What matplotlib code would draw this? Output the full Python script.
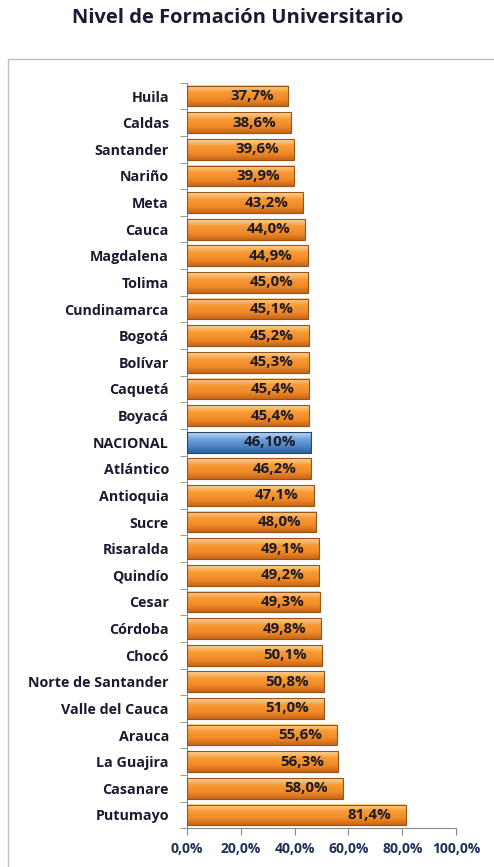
import numpy as np
import matplotlib.pyplot as plt
from matplotlib.patches import Rectangle
from matplotlib.colors import LinearSegmentedColormap

regiones = ["Huila", "Caldas", "Santander", "Nariño", "Meta", "Cauca", "Magdalena",
            "Tolima", "Cundinamarca", "Bogotá", "Bolívar", "Caquetá", "Boyacá",
            "NACIONAL", "Atlántico", "Antioquia", "Sucre", "Risaralda", "Quindío",
            "Cesar", "Córdoba", "Chocó", "Norte de Santander", "Valle del Cauca",
            "Arauca", "La Guajira", "Casanare", "Putumayo"]
valores = [37.7, 38.6, 39.6, 39.9, 43.2, 44.0, 44.9, 45.0, 45.1, 45.2, 45.3, 45.4, 45.4,
           46.10, 46.2, 47.1, 48.0, 49.1, 49.2, 49.3, 49.8, 50.1, 50.8, 51.0,
           55.6, 56.3, 58.0, 81.4]
etiquetas = ["37,7%", "38,6%", "39,6%", "39,9%", "43,2%", "44,0%", "44,9%", "45,0%",
             "45,1%", "45,2%", "45,3%", "45,4%", "45,4%", "46,10%", "46,2%", "47,1%",
             "48,0%", "49,1%", "49,2%", "49,3%", "49,8%", "50,1%", "50,8%", "51,0%",
             "55,6%", "56,3%", "58,0%", "81,4%"]
xticks = [0, 20, 40, 60, 80, 100]

plt.rcParams['font.family'] = ['Open Sans', 'DejaVu Sans']

fig = plt.figure(figsize=(4.94, 8.67), dpi=100)
# marco del area del grafico
fig.patches.append(Rectangle((8/494, -0.05), 1.1, 1 - 59/867 + 0.05, transform=fig.transFigure,
                             fill=False, edgecolor='#BFBFBF', lw=1))
fig.text(238/494, 1 - 18/867, "Nivel de Formación Universitario", ha='center', va='center',
         fontsize=14.5, fontweight='bold', color='#1A1A30')

ax = fig.add_axes([187/494, 1 - 828.3/867, 269/494, (828.3 - 82.7)/867])
y = np.arange(len(regiones))
naranja = LinearSegmentedColormap.from_list('n', ['#C8661A', '#F28C28', '#F79A35', '#FDD79C'])
azul = LinearSegmentedColormap.from_list('a', ['#2F5F9E', '#4F86C6', '#6FA3DE', '#C3DAF4'])
barras = ax.barh(y, valores, height=0.78, color='none', edgecolor='#9A5216', lw=0.8, zorder=3)
grad = np.linspace(0, 1, 64).reshape(-1, 1)
for b, reg, et in zip(barras, regiones, etiquetas):
    x0, y0, w, h = b.get_x(), b.get_y(), b.get_width(), b.get_height()
    cm = azul if reg == "NACIONAL" else naranja
    ax.imshow(grad, cmap=cm, extent=(x0, x0 + w, y0 + h, y0), aspect='auto',
              origin='lower', zorder=2)
    if reg == "NACIONAL":
        b.set_edgecolor('#23466F')
    ax.text(x0 + w - 5.5, y0 + h / 2, et, ha='right', va='center', fontsize=10.8,
            fontweight='bold', color='#1A1A2A', zorder=4)

ax.set_ylim(len(regiones) - 0.5, -0.5)
ax.set_xlim(0, 100)
ax.set_yticks(y)
ax.set_yticklabels(regiones, fontsize=10.3, fontweight='bold', color='#1A1A30')
ax.tick_params(axis='y', length=0, pad=13)
ax.set_yticks(np.arange(-0.5, len(regiones), 1), minor=True)
ax.tick_params(axis='y', which='minor', length=5, color='#888888')
ax.set_xticks(xticks)
ax.set_xticklabels([f"{v},0%" for v in xticks], fontsize=10, fontweight='bold', color='#1F2F5A')
ax.tick_params(axis='x', length=5, color='#888888', pad=5)
for s in ['top', 'right']:
    ax.spines[s].set_visible(False)
for s in ['left', 'bottom']:
    ax.spines[s].set_color('#888888')

fig.savefig('out.png', dpi=100)
